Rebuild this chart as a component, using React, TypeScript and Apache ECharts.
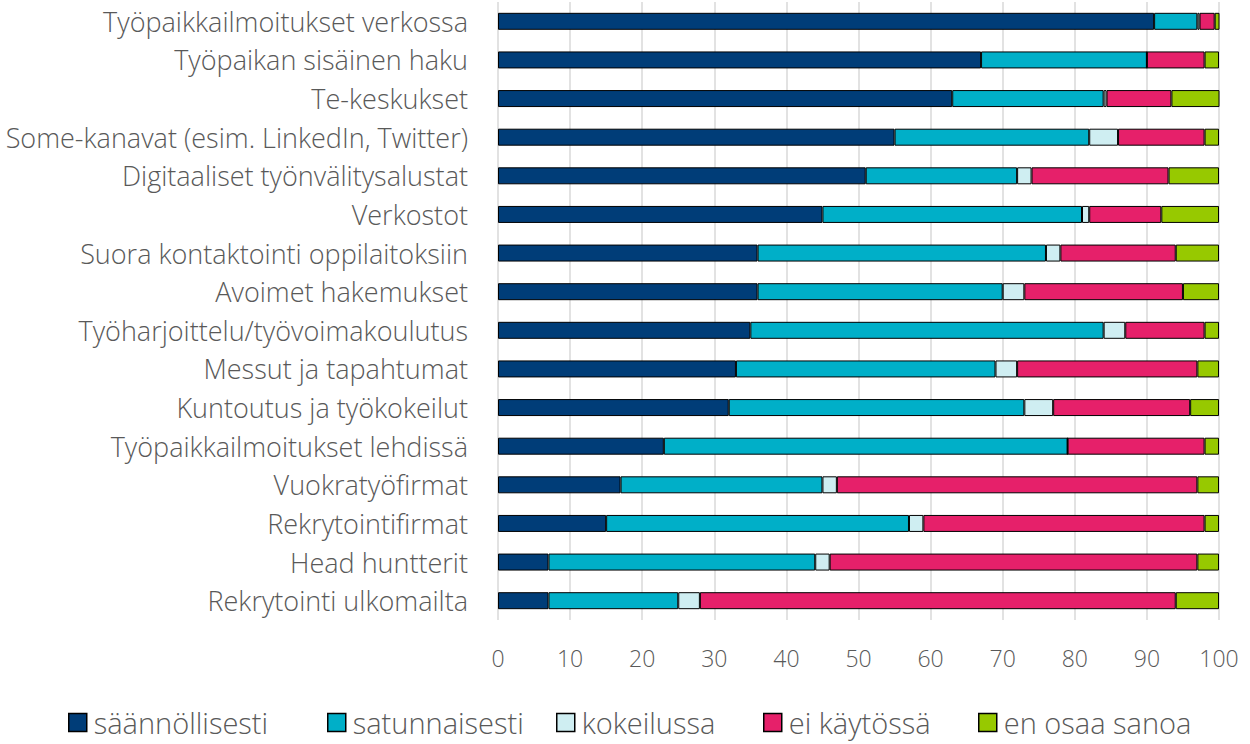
import React, { useEffect, useRef } from "react";
import * as echarts from "echarts";

const categories = [
  "Työpaikkailmoitukset verkossa",
  "Työpaikan sisäinen haku",
  "Te-keskukset",
  "Some-kanavat (esim. LinkedIn, Twitter)",
  "Digitaaliset työnvälitysalustat",
  "Verkostot",
  "Suora kontaktointi oppilaitoksiin",
  "Avoimet hakemukset",
  "Työharjoittelu/työvoimakoulutus",
  "Messut ja tapahtumat",
  "Kuntoutus ja työkokeilut",
  "Työpaikkailmoitukset lehdissä",
  "Vuokratyöfirmat",
  "Rekrytointifirmat",
  "Head huntterit",
  "Rekrytointi ulkomailta",
];

const seriesNames = ["säännöllisesti", "satunnaisesti", "kokeilussa", "ei käytössä", "en osaa sanoa"];

const saannollisesti = [91, 67, 63, 55, 51, 45, 36, 36, 35, 33, 32, 23, 17, 15, 7, 7];
const satunnaisesti = [6, 23, 21, 27, 21, 36, 40, 34, 49, 36, 41, 56, 28, 42, 37, 18];
const kokeilussa = [0.3, 0, 0.4, 4, 2, 1, 2, 3, 3, 3, 4, 0, 2, 2, 2, 3];
const eiKaytossa = [2.1, 8, 9, 12, 19, 10, 16, 22, 11, 25, 19, 19, 50, 39, 51, 66];
const enOsaaSanoa = [0.8, 2, 7, 2, 7, 8, 6, 5, 2, 3, 4, 2, 3, 2, 3, 6];

const xTicks = { min: 0, max: 100, interval: 10 };

const colors = ["#003D78", "#00AFC8", "#CFEEF2", "#E6206A", "#97C900"];
const values = [saannollisesti, satunnaisesti, kokeilussa, eiKaytossa, enOsaaSanoa];
const legendLeft = [68, 327, 556, 763, 978];

const FONT = "'Open Sans', 'Noto Sans', sans-serif";

export default function App() {
  const ref = useRef<HTMLDivElement>(null);
  useEffect(() => {
    if (!ref.current) return;
    const chart = echarts.init(ref.current, null, { renderer: "svg" });
    chart.setOption({
      animation: false,
      grid: { left: 498, right: 31, top: 2, bottom: 124, containLabel: false },
      legend: seriesNames.map((name, i) => ({
        top: 708,
        left: legendLeft[i],
        itemWidth: 18,
        itemHeight: 18,
        icon: "rect",
        padding: 0,
        textStyle: { fontSize: 29, color: "#595959", fontFamily: FONT, fontWeight: 300, padding: [0, 0, 0, 2] },
        itemStyle: { borderColor: "#000", borderWidth: 1.5 },
        data: [name],
      })),
      xAxis: {
        type: "value",
        min: xTicks.min,
        max: xTicks.max,
        interval: xTicks.interval,
        axisLine: { show: false },
        axisTick: { show: false },
        axisLabel: { fontSize: 23, color: "#595959", fontFamily: FONT, fontWeight: 300, margin: 26 },
        splitLine: { show: true, lineStyle: { color: "#d9d9d9", width: 1.5 } },
      },
      yAxis: {
        type: "category",
        data: categories,
        inverse: true,
        axisLine: { show: false },
        axisTick: { show: false },
        axisLabel: { fontSize: 27, color: "#595959", fontFamily: FONT, fontWeight: 300, margin: 30 },
      },
      series: seriesNames.map((name, i) => ({
        name,
        type: "bar",
        stack: "total",
        barWidth: "44%",
        data: values[i],
        itemStyle: { color: colors[i], borderColor: "#000", borderWidth: 1 },
      })),
    });
    return () => chart.dispose();
  }, []);
  return <div ref={ref} style={{ width: 1250, height: 744, position: "absolute", left: 0, top: 0 }} />;
}
